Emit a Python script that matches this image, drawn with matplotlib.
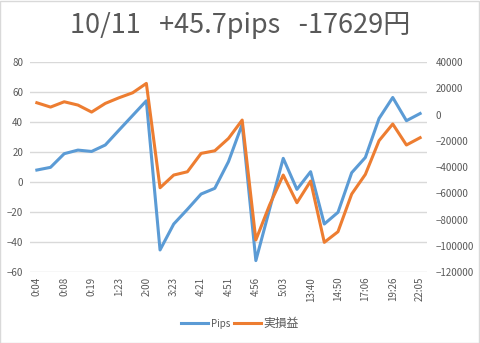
import matplotlib
matplotlib.use('Agg')
import matplotlib.pyplot as plt
from matplotlib.patches import Rectangle

plt.rcParams['font.family'] = ['Noto Sans CJK JP', 'DejaVu Sans']

# tick labels shown on every other category
time_labels = ['0:04', '0:08', '0:19', '1:23', '2:00', '3:23', '4:21', '4:51',
               '4:56', '5:03', '13:40', '14:50', '17:06', '19:26', '22:05']

pips = [8.0, 9.8, 18.9, 21.3, 20.4, 24.7, 34.6, 44.4, 54.2, -45.3,
        -28.0, -18.2, -8.0, -4.2, 13.6, 38.5, -52.4, -18.2, 15.8, -4.9,
        6.9, -28.0, -20.2, 6.2, 16.4, 42.4, 56.4, 40.9, 45.7]

profit = [9000, 5700, 9750, 7240, 1900, 8500, 12800, 16600, 23750, -55800,
          -46100, -43600, -29600, -27600, -18200, -4200, -95600, -69000, -46100, -67200,
          -50700, -97400, -89300, -60600, -45600, -19900, -7200, -23200, -17629]

BLUE = '#5B9BD5'
ORANGE = '#ED7D31'
GREY = '#595959'

fig = plt.figure(figsize=(4.8, 3.43), dpi=100)
fig.patches.append(Rectangle((0.001, 0.001), 0.997, 0.996, transform=fig.transFigure,
                             fill=False, edgecolor='#D9D9D9', linewidth=1))

ax = fig.add_axes([0.0625, 0.207, 0.827, 0.612])
ax2 = ax.twinx()

x = list(range(len(pips)))
l1, = ax.plot(x, pips, color=BLUE, linewidth=2.2, label='Pips')
l2, = ax2.plot(x, profit, color=ORANGE, linewidth=2.2, label='実損益')

ax.set_xlim(-0.5, len(pips) - 0.5)
ax.set_ylim(-60, 80)
ax.set_yticks(range(-60, 81, 20))
ax2.set_ylim(-120000, 40000)
ax2.set_yticks(range(-120000, 40001, 20000))

ax.set_xticks(x[::2])
ax.set_xticklabels(time_labels, rotation=90, fontsize=6.5, color=GREY)

ax.grid(True, axis='y', color='#D9D9D9', linewidth=1)
ax.set_axisbelow(True)

for a in (ax, ax2):
    for s in a.spines.values():
        s.set_visible(False)
    a.tick_params(length=0, labelsize=7, colors=GREY)
ax.tick_params(axis='y', pad=5)
ax2.tick_params(axis='y', pad=6)

fig.text(0.5, 0.925, '10/11   +45.7pips   -17629円', ha='center', va='center',
         fontsize=19.5, color=GREY)

leg = fig.legend(handles=[l1, l2], loc='center', bbox_to_anchor=(0.5, 0.058), ncol=2,
                 frameon=False, fontsize=7, handlelength=2.8, columnspacing=0.3,
                 handletextpad=0.3, labelcolor=GREY)
leg.get_texts()[1].set_fontsize(8.5)

fig.savefig('out.png', dpi=100)
